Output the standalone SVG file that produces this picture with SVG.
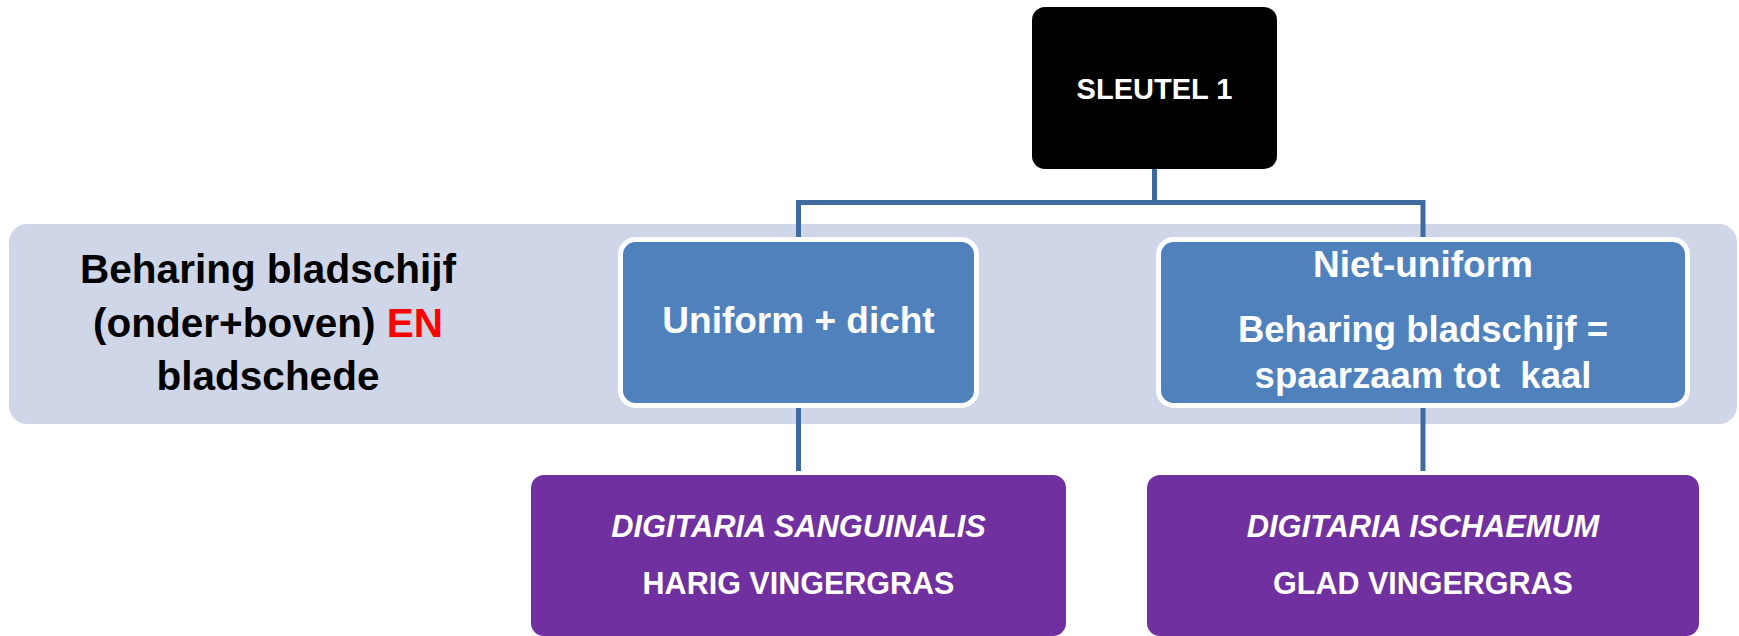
<svg xmlns="http://www.w3.org/2000/svg" width="1739" height="636" viewBox="0 0 1739 636">
<style>
.t{font-family:"Liberation Sans",Arial,sans-serif;font-weight:bold;text-anchor:middle}
.w{fill:#ffffff}
.conn{fill:none;stroke:#3F6B9E;stroke-width:5;stroke-linejoin:miter;stroke-linecap:butt}
.blue{fill:#4F81BD;stroke:#ffffff;stroke-width:5}
.purple{fill:#7030A0}
</style>
<rect id="band" x="9" y="224" width="1728" height="200" rx="18" fill="#CFD6E7"/>
<g id="label">
<text class="t" x="268" y="283" font-size="40.5" fill="#000">Beharing bladschijf</text>
<text class="t" x="268" y="337" font-size="40.5" fill="#000">(onder+boven) <tspan fill="#FF0000">EN</tspan></text>
<text class="t" x="268" y="390" font-size="40.5" fill="#000">bladschede</text>
</g>
<g id="connectors">
<path class="conn" d="M1154.5,169 V203"/>
<path class="conn" d="M798.5,238 V202.5 H1423 V238"/>
<path class="conn" d="M798.5,406 V471"/>
<path class="conn" d="M1423,406 V471"/>
</g>
<g id="sleutel">
<rect x="1032" y="7" width="245" height="162" rx="13" fill="#000"/>
<text class="t w" x="1154.5" y="99" font-size="29">SLEUTEL 1</text>
</g>
<g id="uniform">
<rect class="blue" x="620.5" y="239.5" width="356" height="166" rx="15"/>
<text class="t w" x="798.5" y="333" font-size="37">Uniform + dicht</text>
</g>
<g id="niet-uniform">
<rect class="blue" x="1158.5" y="239.5" width="529" height="166" rx="15"/>
<text class="t w" x="1423" y="277" font-size="37">Niet-uniform</text>
<text class="t w" x="1423" y="342" font-size="36.5">Beharing bladschijf =</text>
<text class="t w" x="1423" y="388" font-size="36.5" style="white-space:pre">spaarzaam tot  kaal</text>
</g>
<g id="sanguinalis">
<rect class="purple" x="531" y="475" width="535" height="161" rx="13"/>
<text class="t w" x="798.5" y="537" font-size="30.8" font-style="italic">DIGITARIA SANGUINALIS</text>
<text class="t w" x="798.5" y="594" font-size="30.5">HARIG VINGERGRAS</text>
</g>
<g id="ischaemum">
<rect class="purple" x="1147" y="475" width="552" height="161" rx="13"/>
<text class="t w" x="1423" y="537" font-size="30.8" font-style="italic">DIGITARIA ISCHAEMUM</text>
<text class="t w" x="1423" y="594" font-size="30.5">GLAD VINGERGRAS</text>
</g>
</svg>
